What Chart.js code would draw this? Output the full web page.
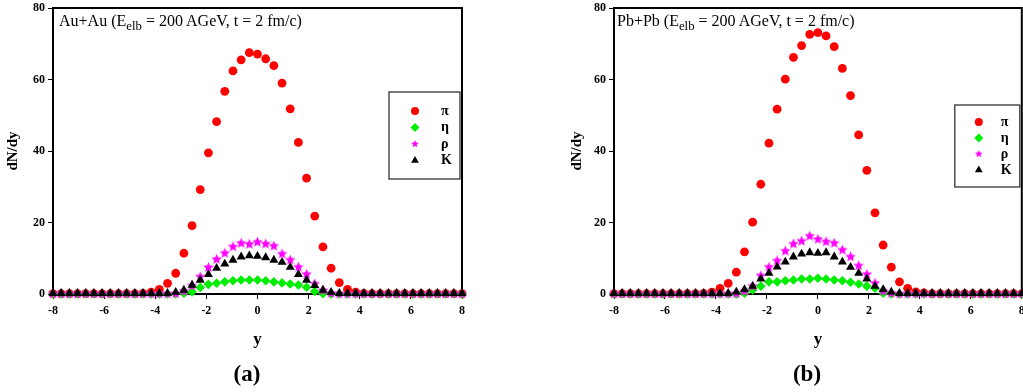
<!DOCTYPE html>
<html>
<head>
<meta charset="utf-8">
<script src="https://cdn.jsdelivr.net/npm/chart.js@4.4.1/dist/chart.umd.min.js"></script>
<style>
    body { margin: 0; background: #fff; }
    #page { position: relative; width: 1023px; height: 392px; overflow: hidden; background: #fff; }
    .panel { position: absolute; top: 0; }
    .note { position: absolute; top: 13px; font: 16px "Liberation Serif", serif; line-height: 16px; white-space: nowrap; color: #000; }
    .note sub { font-size: 0.8em; vertical-align: -4px; line-height: 0; }
    .tag { position: absolute; top: 362px; width: 100px; text-align: center; font: bold 23px "Liberation Serif", serif; line-height: 24px; color: #000; }
</style>
</head>
<body>
<div id="page">
    <canvas id="chart_a" class="panel" style="left:0px" width="512" height="392"></canvas>
    <canvas id="chart_b" class="panel" style="left:564px" width="463" height="392"></canvas>
    <div class="note" style="left:59px">Au+Au (E<sub>elb</sub> = 200 AGeV, t = 2 fm/c)</div>
    <div class="note" style="left:617px">Pb+Pb (E<sub>elb</sub> = 200 AGeV, t = 2 fm/c)</div>
    <div class="tag" style="left:197px">(a)</div>
    <div class="tag" style="left:757px">(b)</div>
</div>
<script>
// rapidity grid, same for both panels
var rapidity = [-8.00, -7.68, -7.36, -7.04, -6.72, -6.40, -6.08, -5.76, -5.44, -5.12, -4.80, -4.48,
    -4.16, -3.84, -3.52, -3.20, -2.88, -2.56, -2.24, -1.92, -1.60, -1.28, -0.96, -0.64, -0.32,
    0.00, 0.32, 0.64, 0.96, 1.28, 1.60, 1.92, 2.24, 2.56, 2.88, 3.20, 3.52, 3.84,
    4.16, 4.48, 4.80, 5.12, 5.44, 5.76, 6.08, 6.40, 6.72, 7.04, 7.36, 7.68, 8.00];

var particle_names = ["π", "η", "ρ", "K"];
var y_ticks = [0, 20, 40, 60, 80];
var x_ticks = [-8, -6, -4, -2, 0, 2, 4, 6, 8];

// (a) Au+Au
var au_pion = [0.1, 0.1, 0.1, 0.1, 0.1, 0.1, 0.1, 0.1, 0.1, 0.1, 0.1, 0.2,
    0.5, 1.3, 3.0, 5.8, 11.4, 19.1, 29.2, 39.5, 48.2, 56.7, 62.4, 65.5, 67.5,
    67.1, 65.8, 63.9, 59.0, 51.8, 42.4, 32.4, 21.8, 13.2, 7.2, 3.2, 1.3, 0.5,
    0.2, 0.1, 0.1, 0.1, 0.1, 0.1, 0.1, 0.1, 0.1, 0.1, 0.1, 0.1, 0.1];
var au_eta = [0, 0, 0, 0, 0, 0, 0, 0, 0, 0, 0, 0,
    0, 0, 0, 0, 0.2, 0.6, 1.8, 2.7, 3.0, 3.4, 3.7, 3.9, 3.9,
    3.9, 3.7, 3.4, 3.1, 2.8, 2.5, 1.9, 0.7, 0.1, 0, 0, 0, 0,
    0, 0, 0, 0, 0, 0, 0, 0, 0, 0, 0, 0, 0];
var au_rho = [0.05, 0.05, 0.05, 0.05, 0.05, 0.05, 0.05, 0.05, 0.05, 0.05, 0.05, 0.05,
    0.05, 0.05, 0.05, 0.1, 0.8, 2.3, 4.8, 7.4, 9.7, 11.4, 13.2, 14.2, 13.9,
    14.5, 14.0, 13.4, 11.2, 9.5, 7.5, 5.5, 2.8, 1.0, 0.2, 0.05, 0.05, 0.05,
    0.05, 0.05, 0.05, 0.05, 0.05, 0.05, 0.05, 0.05, 0.05, 0.05, 0.05, 0.05, 0.05];
var au_kaon = [0.2, 0.2, 0.2, 0.2, 0.2, 0.2, 0.2, 0.2, 0.2, 0.2, 0.2, 0.2,
    0.2, 0.2, 0.2, 0.5, 1.1, 2.5, 3.9, 5.5, 7.2, 8.4, 9.5, 10.4, 10.7,
    10.6, 10.2, 9.5, 8.9, 7.5, 5.5, 3.9, 2.4, 1.1, 0.5, 0.2, 0.2, 0.2,
    0.2, 0.2, 0.2, 0.2, 0.2, 0.2, 0.2, 0.2, 0.2, 0.2, 0.2, 0.2, 0.2];

// (b) Pb+Pb
var pb_pion = [0.1, 0.1, 0.1, 0.1, 0.1, 0.1, 0.1, 0.1, 0.1, 0.1, 0.1, 0.2,
    0.5, 1.6, 3.0, 6.1, 11.8, 20.1, 30.7, 42.2, 51.7, 60.1, 66.2, 69.5, 72.6,
    73.1, 72.2, 69.2, 63.1, 55.5, 44.5, 34.6, 22.7, 13.7, 7.5, 3.4, 1.6, 0.6,
    0.3, 0.1, 0.1, 0.1, 0.1, 0.1, 0.1, 0.1, 0.1, 0.1, 0.1, 0.1, 0.1];
var pb_eta = [0, 0, 0, 0, 0, 0, 0, 0, 0, 0, 0, 0,
    0, 0, 0, 0, 0.2, 1.1, 2.2, 3.4, 3.4, 3.7, 3.9, 4.2, 4.2,
    4.4, 4.2, 3.9, 3.7, 3.3, 2.8, 2.2, 1.6, 0.2, 0, 0, 0, 0,
    0, 0, 0, 0, 0, 0, 0, 0, 0, 0, 0, 0, 0];
var pb_rho = [0.05, 0.05, 0.05, 0.05, 0.05, 0.05, 0.05, 0.05, 0.05, 0.05, 0.05, 0.05,
    0.05, 0.05, 0.05, 0.1, 0.8, 2.2, 5.1, 7.5, 9.3, 12.0, 14.0, 14.8, 16.2,
    15.3, 14.6, 14.2, 12.3, 10.4, 7.9, 5.5, 3.0, 0.8, 0.2, 0.05, 0.05, 0.05,
    0.05, 0.05, 0.05, 0.05, 0.05, 0.05, 0.05, 0.05, 0.05, 0.05, 0.05, 0.05, 0.05];
var pb_kaon = [0.2, 0.2, 0.2, 0.2, 0.2, 0.2, 0.2, 0.2, 0.2, 0.2, 0.2, 0.2,
    0.2, 0.2, 0.2, 0.6, 1.3, 2.2, 4.2, 5.8, 7.6, 9.0, 10.4, 11.2, 11.6,
    11.4, 11.6, 10.4, 9.0, 7.5, 5.8, 4.2, 2.2, 1.3, 0.6, 0.2, 0.2, 0.2,
    0.2, 0.2, 0.2, 0.2, 0.2, 0.2, 0.2, 0.2, 0.2, 0.2, 0.2, 0.2, 0.2];

var serif = '"Liberation Serif", "Times New Roman", serif';

function Make_Star( radius, color ) {
    var size = Math.ceil(radius * 2) + 2;
    var c = document.createElement("canvas");
    c.width = size;
    c.height = size;
    var ctx = c.getContext("2d");
    ctx.fillStyle = color;
    ctx.beginPath();
    for ( var i=0; i<10; i++ ) {
        var r = (i % 2 == 0) ? radius : radius * 0.45;
        var ang = -Math.PI / 2 + i * Math.PI / 5;
        var px = size / 2 + Math.cos(ang) * r;
        var py = size / 2 + Math.sin(ang) * r;
        if (i == 0) ctx.moveTo(px, py); else ctx.lineTo(px, py);
    }
    ctx.closePath();
    ctx.fill();
    return c;
}

var star_big = Make_Star(5.5, "#ff00ff");
var star_small = Make_Star(4, "#ff00ff");

function Pairs( values ) {
    var out = [];
    for ( var i=0; i<rapidity.length; i++ ) {
        out.push({ x: rapidity[i], y: values[i] });
    }
    return out;
}

function Make_Datasets( pion, eta, rho, kaon ) {
    var common = { clip: false, pointBorderWidth: 0, showLine: false };
    return [
        Object.assign({ label: particle_names[0], data: Pairs(pion), pointStyle: "circle",
            pointRadius: 4.4, pointHoverRadius: 4.4, backgroundColor: "#ff0000", order: 4,
            legendStyle: "circle", legendRadius: 4 }, common),
        Object.assign({ label: particle_names[1], data: Pairs(eta), pointStyle: "rectRot",
            pointRadius: 4.8, pointHoverRadius: 4.8, backgroundColor: "#00ee00", order: 3,
            legendStyle: "rectRot", legendRadius: 4.5 }, common),
        Object.assign({ label: particle_names[2], data: Pairs(rho), pointStyle: star_big,
            pointRadius: 5, pointHoverRadius: 5, backgroundColor: "#ff00ff", order: 2,
            legendStyle: star_small, legendRadius: 4 }, common),
        Object.assign({ label: particle_names[3], data: Pairs(kaon), pointStyle: "triangle",
            pointRadius: 5.2, pointHoverRadius: 5.2, backgroundColor: "#000000", order: 1,
            legendStyle: "triangle", legendRadius: 4.5 }, common),
    ];
}

// black box round the plot area
const frame_plugin = {
    id: "frame",
    beforeDatasetsDraw(chart) {
        var a = chart.chartArea;
        var ctx = chart.ctx;
        ctx.save();
        ctx.strokeStyle = "#000";
        ctx.lineWidth = 2;
        ctx.strokeRect(a.left, a.top, a.right - a.left, a.bottom - a.top);
        ctx.restore();
    }
};

// boxed legend inside the plot area
const box_legend = {
    id: "boxLegend",
    afterDatasetsDraw(chart, args, opts) {
        var a = chart.chartArea;
        var ctx = chart.ctx;
        var x = a.right - opts.right - opts.width;
        var y = a.top + opts.top;
        ctx.save();
        ctx.fillStyle = "#fff";
        ctx.fillRect(x, y, opts.width, opts.height);
        ctx.strokeStyle = "#333";
        ctx.lineWidth = 1.3;
        ctx.strokeRect(x, y, opts.width, opts.height);
        ctx.font = "bold 14px " + serif;
        ctx.textBaseline = "middle";
        ctx.textAlign = "left";
        var sets = chart.data.datasets;
        for ( var i=0; i<sets.length; i++ ) {
            var cy = y + opts.first + i * opts.step;
            ctx.fillStyle = sets[i].backgroundColor;
            Chart.helpers.drawPoint(ctx, { pointStyle: sets[i].legendStyle, radius: sets[i].legendRadius,
                borderWidth: 0, rotation: 0 }, x + opts.markerX, cy);
            ctx.fillStyle = "#000";
            ctx.fillText(sets[i].label, x + opts.textX, cy);
        }
        ctx.restore();
    }
};

function Make_Config( datasets, y_width, right_pad, legend ) {
    return {
        type: "scatter",
        data: { datasets: datasets },
        plugins: [frame_plugin, box_legend],
        options: {
            responsive: false,
            animation: false,
            events: [],
            layout: { padding: { left: 0, right: right_pad, top: 8, bottom: 40 } },
            plugins: {
                legend: { display: false },
                tooltip: { enabled: false },
                boxLegend: legend,
            },
            scales: {
                x: {
                    type: "linear", min: -8, max: 8,
                    afterBuildTicks: function(scale) {
                        scale.ticks = x_ticks.map(function(v) { return { value: v }; });
                    },
                    ticks: { color: "#000", padding: 5, maxRotation: 0,
                        font: { family: serif, weight: "bold", size: 12 } },
                    grid: { drawOnChartArea: false, drawTicks: true, tickLength: 5, color: "#000", lineWidth: 1 },
                    border: { display: false },
                    title: { display: true, text: "y", color: "#000", padding: { top: 0, bottom: 2 },
                        font: { family: serif, weight: "bold", size: 17 } },
                    afterFit: function(scale) {
                        scale.height = 58;
                        scale.paddingLeft = 0;
                        scale.paddingRight = 0;
                    },
                },
                y: {
                    type: "linear", min: 0, max: 80,
                    afterBuildTicks: function(scale) {
                        scale.ticks = y_ticks.map(function(v) { return { value: v }; });
                    },
                    ticks: { color: "#000", padding: 3,
                        font: { family: serif, weight: "bold", size: 12 } },
                    grid: { drawOnChartArea: false, drawTicks: true, tickLength: 5, color: "#000", lineWidth: 1 },
                    border: { display: false },
                    title: { display: true, text: "dN/dy", color: "#000", padding: { top: 4, bottom: 0 },
                        font: { family: serif, weight: "bold", size: 15 } },
                    afterFit: function(scale) {
                        scale.width = y_width;
                        scale.paddingTop = 0;
                        scale.paddingBottom = 0;
                    },
                },
            },
        },
    };
}

window.onload = function() {
    var ctx_a = document.getElementById("chart_a").getContext("2d");
    new Chart(ctx_a, Make_Config(Make_Datasets(au_pion, au_eta, au_rho, au_kaon), 53, 50,
        { right: 2, top: 84, width: 71, height: 87, markerX: 26, textX: 52, first: 19, step: 16.5 }));

    var ctx_b = document.getElementById("chart_b").getContext("2d");
    new Chart(ctx_b, Make_Config(Make_Datasets(pb_pion, pb_eta, pb_rho, pb_kaon), 50, 1,
        { right: 2, top: 97, width: 65, height: 82, markerX: 24, textX: 46, first: 17, step: 16 }));
}
</script>
</body>
</html>
